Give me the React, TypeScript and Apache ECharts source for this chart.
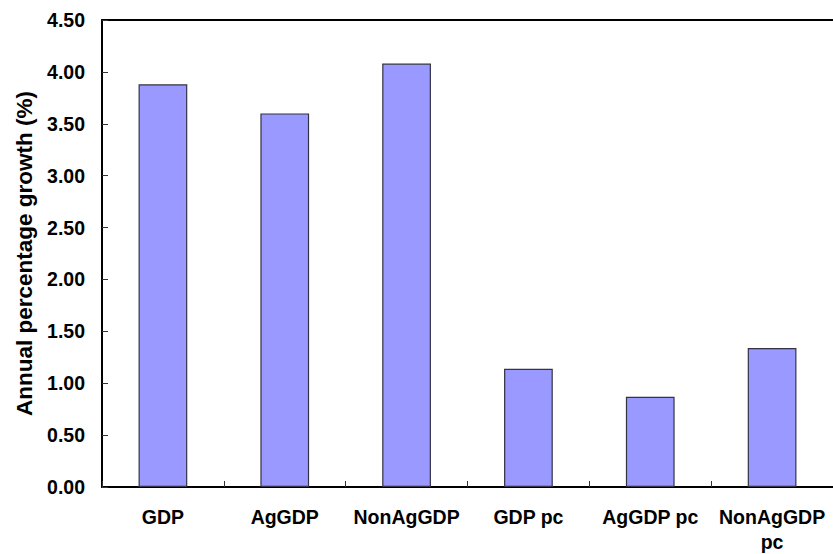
import React, { useEffect, useRef } from "react";
import * as echarts from "echarts";

const categories = ["GDP", "AgGDP", "NonAgGDP", "GDP pc", "AgGDP pc", "NonAgGDP pc"];
const growthValues = [3.88, 3.6, 4.08, 1.14, 0.87, 1.34];
const yAxisTitle = "Annual percentage growth (%)";

export default function App() {
  const ref = useRef<HTMLDivElement>(null);
  useEffect(() => {
    if (!ref.current) return;
    const chart = echarts.init(ref.current, undefined, { renderer: "svg" });
    const font = "'Liberation Sans', Arial, sans-serif";
    chart.setOption({
      animation: false,
      backgroundColor: "#ffffff",
      grid: {
        left: 102,
        top: 20,
        right: -5,
        bottom: 66,
        show: false,
      },
      xAxis: [
        {
          type: "category",
          data: categories,
          axisLine: { show: true, lineStyle: { color: "#000000", width: 2 } },
          axisTick: { show: true, inside: true, length: 6, alignWithLabel: false, lineStyle: { color: "#333333", width: 1 } },
          axisLabel: {
            interval: 0,
            color: "#000000",
            fontFamily: font,
            fontWeight: "bold",
            fontSize: 19.5,
            lineHeight: 25,
            margin: 17,
            formatter: (v: string) => (v === "NonAgGDP pc" ? "NonAgGDP\npc" : v),
          },
          splitLine: { show: false },
        },
        {
          type: "category",
          data: categories,
          position: "top",
          axisLine: { show: true, lineStyle: { color: "#000000", width: 2 } },
          axisTick: { show: false },
          axisLabel: { show: false },
          splitLine: { show: false },
        },
      ],
      yAxis: {
        type: "value",
        min: 0,
        max: 4.5,
        interval: 0.5,
        name: yAxisTitle,
        nameLocation: "middle",
        nameGap: 66,
        nameTextStyle: { color: "#000000", fontFamily: font, fontWeight: "bold", fontSize: 22.5 },
        axisLine: { show: true, lineStyle: { color: "#000000", width: 2 } },
        axisTick: { show: true, inside: true, length: 6, lineStyle: { color: "#333333", width: 1 } },
        axisLabel: {
          color: "#000000",
          fontFamily: font,
          fontWeight: "bold",
          fontSize: 19.5,
          margin: 17,
          formatter: (v: number) => v.toFixed(2),
        },
        splitLine: { show: false },
      },
      series: [
        {
          type: "bar",
          data: growthValues,
          barWidth: "40%",
          itemStyle: { color: "#9999FF", borderColor: "#333344", borderWidth: 1.2 },
        },
      ],
    });
    return () => chart.dispose();
  }, []);
  return (
    <div style={{ position: "fixed", left: 0, top: 0, width: 833, height: 554, overflow: "hidden", background: "#fff" }}>
      <div ref={ref} style={{ width: 833, height: 554 }} />
    </div>
  );
}
